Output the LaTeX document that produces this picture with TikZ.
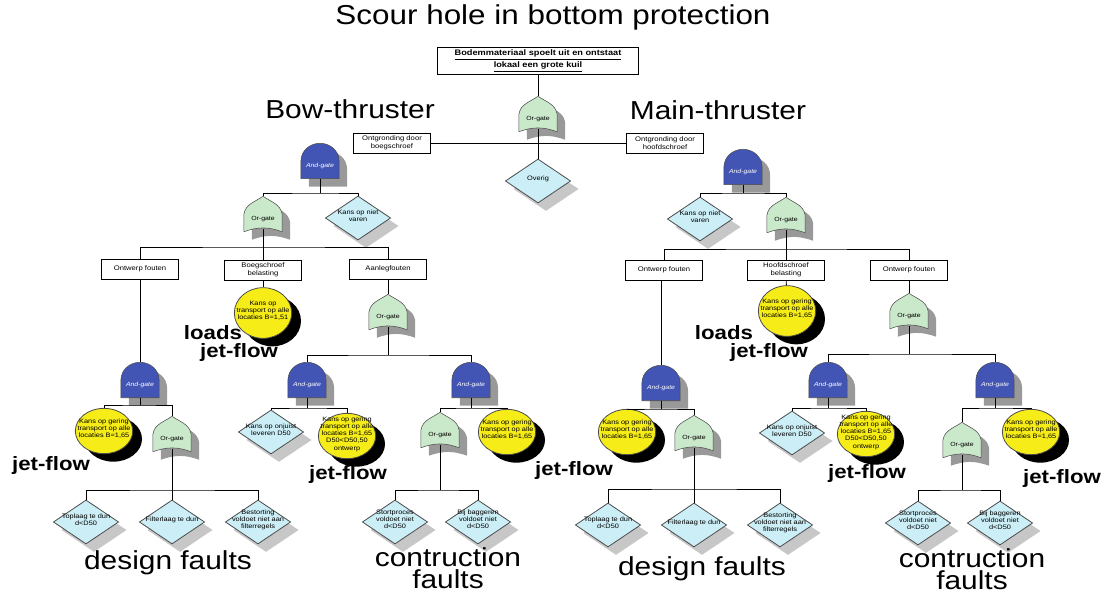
\documentclass[tikz,border=0pt]{standalone}
\usepackage{fontspec}
\setmainfont{Liberation Sans}
\newfontfamily\widesans[FakeStretch=1.15]{Liberation Sans}
\usetikzlibrary{shapes.geometric, shadows, backgrounds}
\definecolor{andblue}{RGB}{66,84,180}
\definecolor{orgreen}{RGB}{202,232,202}
\definecolor{evcyan}{RGB}{204,238,246}
\definecolor{evyellow}{RGB}{246,236,24}
% text that does not widen the event shapes
\newcommand{\evt}[1]{\makebox[0pt]{\smash{\begin{tabular}{@{}c@{}}#1\end{tabular}}}}

\begin{document}
\begin{tikzpicture}[
  x=0.75pt, y=0.75pt, line width=0.6pt, font=\widesans,
  box/.style={draw, fill=white, rectangle, align=center, inner sep=1pt, minimum width=58pt, minimum height=15pt, font=\widesans\fontsize{5}{5.6}\selectfont},
  andgate/.style={inner sep=0pt, minimum width=28pt, minimum height=26pt, text height=11pt, text depth=1pt, text=white, font=\widesans\fontsize{4.5}{5}\selectfont\itshape},
  orgate/.style={andgate, text=black, font=\widesans\fontsize{4.5}{5}\selectfont},
  event/.style={diamond, draw=black!70, fill=evcyan, inner sep=0pt, minimum width=49pt, minimum height=33pt, font=\widesans\fontsize{4.8}{5.4}\selectfont, drop shadow={shadow xshift=6pt, shadow yshift=-6pt, fill=black!22, opacity=1}},
  basic/.style={ellipse, draw=black!70, fill=evyellow, inner sep=0pt, minimum width=43pt, minimum height=34pt, font=\widesans\fontsize{4.8}{5.4}\selectfont, drop shadow={shadow xshift=7pt, shadow yshift=-6pt, fill=black, opacity=1}},
  andshape/.style={draw=black!70, fill=andblue, drop shadow={shadow xshift=6pt, shadow yshift=-6pt, fill=black!40, opacity=1}},
  orshape/.style={draw=black!70, fill=orgreen, drop shadow={shadow xshift=6pt, shadow yshift=-6pt, fill=black!40, opacity=1}},
  lbl/.style={font=\widesans\fontsize{14.5}{15}\selectfont\bfseries, inner sep=0pt},
  big/.style={font=\widesans\fontsize{19.5}{16.5}\selectfont, inner sep=0pt, align=center}]

\useasboundingbox (0,0) rectangle (1109,-595);

% --- top event
\node[big, font=\widesans\fontsize{20.5}{22}\selectfont] (title) at (553,-17) {Scour hole in bottom protection};
\node[box, line width=1pt, minimum width=151pt, minimum height=20pt, font=\widesans\fontsize{6}{7}\selectfont\bfseries] (top) at (538,-61) {\underline{Bodemmateriaal spoelt uit en ontstaat}\\\underline{lokaal een grote kuil}};
\node[orgate] (orTop) at (538,-114) {Or-gate};
\node[box] (boxBow) at (392,-143) {Ontgronding door\\boegschroef};
\node[box] (boxMain) at (665,-143) {Ontgronding door\\hoofdschroef};
\node[event] (overig) at (538,-181) {\evt{Overig}};
\node[big] (bowlbl) at (350,-109) {Bow-thruster};
\node[big] (mainlbl) at (718,-110) {Main-thruster};

% --- bow-thruster branch
\node[andgate] (andBow) at (320,-161) {And-gate};
\node[orgate] (orBow) at (263,-214) {Or-gate};
\node[event] (varenBow) at (358,-218) {\evt{Kans op niet\\varen}};
\node[box] (ontwBow) at (140,-269) {Ontwerp fouten};
\node[box] (belBow) at (263,-270) {Boegschroef\\belasting};
\node[box] (aanlBow) at (388,-269) {Aanlegfouten};
\node[basic, minimum height=38pt] (jetBow) at (263,-313) {\evt{Kans op\\transport op alle\\locaties B=1,51}};
\node[lbl] (loadsBow) at (213,-333) {loads};
\node[lbl] (flowBow) at (239,-352) {jet-flow};
\node[orgate] (orAanl) at (388,-312) {Or-gate};

\node[andgate] (andO1) at (140,-380) {And-gate};
\node[basic] (jetO1) at (104,-431) {\evt{Kans op gering\\transport op alle\\locaties B=1,65}};
\node[orgate] (orO1) at (172,-434) {Or-gate};
\node[lbl] (flowO1) at (51,-465) {jet-flow};
\node[event] (topO1) at (86,-522) {\evt{Toplaag te dun\\d<D50}};
\node[event] (filtO1) at (172,-522) {\evt{Filterlaag te dun}};
\node[event] (bestO1) at (258,-522) {\evt{Bestorting\\voldoet niet aan\\filterregels}};
\node[big] (designL) at (168,-563) {design faults};

\node[andgate] (andA1) at (307,-380) {And-gate};
\node[andgate] (andA2) at (471,-380) {And-gate};
\node[event] (onjA1) at (271,-432) {\evt{Kans op onjuist\\leveren D50}};
\node[basic] (jetA1) at (347,-436) {\evt{Kans op gering\\transport op alle\\locaties B=1,65\\D50<D50,50\\ontwerp}};
\node[lbl] (flowA1) at (348,-474) {jet-flow};
\node[orgate] (orA2) at (440,-430) {Or-gate};
\node[basic] (jetA2) at (507,-432) {\evt{Kans op gering\\transport op alle\\locaties B=1,65}};
\node[event] (stortA) at (395,-522) {\evt{Stortproces\\voldoet niet\\d<D50}};
\node[event] (bagA) at (478,-522) {\evt{Bij baggeren\\voldoet niet\\d<D50}};
\node[big] (constrL) at (448,-568) {contruction\\faults};

% --- main-thruster branch
\node[andgate] (andMain) at (743,-167) {And-gate};
\node[event] (varenMain) at (700,-219) {\evt{Kans op niet\\varen}};
\node[orgate] (orMain) at (786,-215) {Or-gate};
\node[box] (ontwMain) at (664,-270) {Ontwerp fouten};
\node[box] (belMain) at (786,-270) {Hoofdschroef\\belasting};
\node[box] (aanlMain) at (909,-270) {Ontwerp fouten};
\node[basic, minimum height=38pt] (jetMain) at (787,-311) {\evt{Kans op gering\\transport op alle\\locaties B=1,65}};
\node[lbl] (loadsMain) at (724,-333) {loads};
\node[lbl] (flowMain) at (769,-352) {jet-flow};
\node[orgate] (orAanlM) at (909,-311) {Or-gate};

\node[andgate] (andO2) at (661,-383) {And-gate};
\node[basic] (jetO2) at (627,-432) {\evt{Kans op gering\\transport op alle\\locaties B=1,65}};
\node[orgate] (orO2) at (694,-433) {Or-gate};
\node[lbl] (flowO2) at (574,-470) {jet-flow};
\node[event] (topO2) at (608,-525) {\evt{Toplaag te dun\\d<D50}};
\node[event] (filtO2) at (694,-525) {\evt{Filterlaag te dun}};
\node[event] (bestO2) at (780,-525) {\evt{Bestorting\\voldoet niet aan\\filterregels}};
\node[big] (designR) at (702,-569) {design faults};

\node[andgate] (andM1) at (828,-380) {And-gate};
\node[andgate] (andM2) at (995,-380) {And-gate};
\node[event] (onjM1) at (792,-433) {\evt{Kans op onjuist\\leveren D50}};
\node[basic] (jetM1) at (866,-434) {\evt{Kans op gering\\transport op alle\\locaties B=1,65\\D50<D50,50\\ontwerp}};
\node[lbl] (flowM1) at (867,-473) {jet-flow};
\node[orgate] (orM2) at (962,-440) {Or-gate};
\node[basic] (jetM2) at (1031,-432) {\evt{Kans op gering\\transport op alle\\locaties B=1,65}};
\node[lbl] (flowM2) at (1062,-478) {jet-flow};
\node[event] (stortM) at (918,-523) {\evt{Stortproces\\voldoet niet\\d<D50}};
\node[event] (bagM) at (1000,-523) {\evt{Bij baggeren\\voldoet niet\\d<D50}};
\node[big] (constrR) at (972,-569) {contruction\\faults};

% --- gate outlines
\begin{scope}[on background layer]
\foreach \g in {andBow, andO1, andA1, andA2, andMain, andO2, andM1, andM2}
  \path[andshape] (\g.south west) -- (\g.west) to[out=90,in=180] (\g.north)
    to[out=0,in=90] (\g.east) -- (\g.south east) -- cycle;
\foreach \g in {orTop, orBow, orAanl, orO1, orA2, orMain, orAanlM, orO2, orM2}
  \path[orshape] (\g.south west) -- (\g.west) to[out=80,in=-145] (\g.north)
    to[out=-35,in=100] (\g.east) -- (\g.south east) to[out=160,in=20] (\g.south west);
\end{scope}

% --- connectors
\draw (top) -- (orTop);
\draw ([yshift=2pt]orTop.south) -- (overig);
\draw (boxBow) -- (boxMain);

\coordinate (bAndBow) at (320,-193);
\draw (andBow) -- (bAndBow);
\draw (orBow.north) |- (bAndBow) -| (varenBow.north);
\coordinate (bOrBow) at (263,-247);
\draw ([yshift=2pt]orBow.south) -- (belBow);
\draw (ontwBow.north) |- (bOrBow) -| (aanlBow.north);
\draw (belBow) -- (jetBow);
\draw (aanlBow) -- (orAanl);
\draw (ontwBow) -- (andO1);

\coordinate (bAndO1) at (140,-405);
\draw (andO1) -- (bAndO1);
\draw (jetO1.north) |- (bAndO1) -| (orO1.north);
\coordinate (bOrO1) at (172,-490);
\draw ([yshift=2pt]orO1.south) -- (filtO1);
\draw (topO1.north) |- (bOrO1) -| (bestO1.north);

\coordinate (bOrAanl) at (388,-355);
\draw ([yshift=2pt]orAanl.south) -- (bOrAanl);
\draw (andA1.north) |- (bOrAanl) -| (andA2.north);
\coordinate (bAndA1) at (307,-408);
\draw (andA1) -- (bAndA1);
\draw (onjA1.north) |- (bAndA1) -| (jetA1.north);
\coordinate (bAndA2) at (471,-408);
\draw (andA2) -- (bAndA2);
\draw (orA2.north) |- (bAndA2) -| (jetA2.north);
\coordinate (bOrA2) at (440,-490);
\draw ([yshift=2pt]orA2.south) -- (bOrA2);
\draw (stortA.north) |- (bOrA2) -| (bagA.north);

\coordinate (bAndMain) at (743,-193);
\draw (andMain) -- (bAndMain);
\draw (varenMain.north) |- (bAndMain) -| (orMain.north);
\coordinate (bOrMain) at (786,-249);
\draw ([yshift=2pt]orMain.south) -- (belMain);
\draw (ontwMain.north) |- (bOrMain) -| (aanlMain.north);
\draw (belMain) -- (jetMain);
\draw (aanlMain) -- (orAanlM);
\draw (andO2.north) -- (andO2.north |- ontwMain.south);

\coordinate (bAndO2) at (661,-409);
\draw (andO2) -- (bAndO2);
\draw (jetO2.north) |- (bAndO2) -| (orO2.north);
\coordinate (bOrO2) at (694,-489);
\draw ([yshift=2pt]orO2.south) -- (filtO2);
\draw (topO2.north) |- (bOrO2) -| (bestO2.north);

\coordinate (bOrAanlM) at (909,-354);
\draw ([yshift=2pt]orAanlM.south) -- (bOrAanlM);
\draw (andM1.north) |- (bOrAanlM) -| (andM2.north);
\coordinate (bAndM1) at (828,-408);
\draw (andM1) -- (bAndM1);
\draw (onjM1.north) |- (bAndM1) -| (jetM1.north);
\coordinate (bAndM2) at (995,-408);
\draw (andM2) -- (bAndM2);
\draw (orM2.north) |- (bAndM2) -| (jetM2.north);
\coordinate (bOrM2) at (962,-490);
\draw ([yshift=2pt]orM2.south) -- (bOrM2);
\draw (stortM.north) |- (bOrM2) -| (bagM.north);
\end{tikzpicture}
\end{document}
